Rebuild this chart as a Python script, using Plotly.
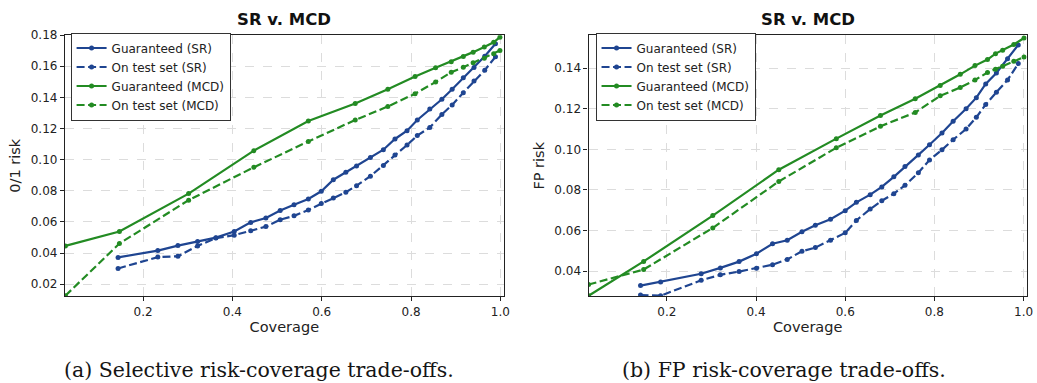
import plotly.graph_objects as go

# ---------------- Panel (a): selective 0/1 risk vs coverage ----------------
a_sr_cov = [0.144, 0.233, 0.278, 0.322, 0.363, 0.404, 0.441, 0.475, 0.507, 0.538,
            0.570, 0.599, 0.626, 0.654, 0.678, 0.709, 0.738, 0.764, 0.791, 0.814,
            0.842, 0.869, 0.892, 0.917, 0.941, 0.965, 0.989]
a_sr_guar = [0.0372, 0.0416, 0.0448, 0.0475, 0.0499, 0.0538, 0.0597, 0.0625, 0.0673, 0.0711,
             0.0747, 0.0797, 0.0871, 0.0919, 0.0959, 0.1014, 0.1064, 0.1133, 0.1186, 0.1255,
             0.1325, 0.1388, 0.1453, 0.1527, 0.1592, 0.1665, 0.1745]
a_sr_test = [0.0301, 0.0374, 0.0379, 0.0446, 0.0496, 0.0515, 0.0543, 0.0570, 0.0614, 0.0639,
             0.0677, 0.0719, 0.0753, 0.0791, 0.0833, 0.0894, 0.0963, 0.1030, 0.1094, 0.1155,
             0.1207, 0.1291, 0.1352, 0.1430, 0.1506, 0.1575, 0.1661]
a_mcd_cov = [0.026, 0.147, 0.302, 0.448, 0.570, 0.675, 0.748, 0.809, 0.855, 0.890,
             0.917, 0.939, 0.964, 0.985, 0.999]
a_mcd_guar = [0.0446, 0.0538, 0.0782, 0.1058, 0.1249, 0.1361, 0.1453, 0.1535, 0.1590, 0.1630,
              0.1663, 0.1691, 0.1724, 0.1754, 0.1787]
a_mcd_test = [0.0126, 0.0461, 0.0740, 0.0951, 0.1117, 0.1255, 0.1342, 0.1424, 0.1499, 0.1562,
              0.1594, 0.1623, 0.1651, 0.1680, 0.1701]

# ---------------- Panel (b): false-positive risk vs coverage ----------------
b_sr_cov = [0.141, 0.186, 0.277, 0.320, 0.362, 0.401, 0.437, 0.470, 0.503, 0.533,
            0.567, 0.600, 0.625, 0.656, 0.682, 0.709, 0.734, 0.764, 0.789, 0.817,
            0.842, 0.871, 0.894, 0.915, 0.939, 0.964, 0.988]
b_sr_guar = [0.0329, 0.0347, 0.0387, 0.0416, 0.0447, 0.0486, 0.0535, 0.0552, 0.0594, 0.0626,
             0.0656, 0.0698, 0.0739, 0.0777, 0.0815, 0.0865, 0.0916, 0.0973, 0.1023, 0.1081,
             0.1139, 0.1200, 0.1255, 0.1323, 0.1377, 0.1447, 0.1515]
b_sr_test = [0.0282, 0.0279, 0.0355, 0.0382, 0.0398, 0.0414, 0.0432, 0.0458, 0.0498, 0.0516,
             0.0552, 0.0589, 0.0650, 0.0706, 0.0747, 0.0782, 0.0823, 0.0885, 0.0948, 0.0998,
             0.1048, 0.1100, 0.1158, 0.1221, 0.1282, 0.1342, 0.1423]
b_mcd_cov = [0.0245, 0.148, 0.303, 0.451, 0.580, 0.679, 0.757, 0.813, 0.858, 0.891,
             0.919, 0.937, 0.953, 0.978, 1.001]
b_mcd_guar = [0.0279, 0.0448, 0.0674, 0.0900, 0.1053, 0.1167, 0.1250, 0.1315, 0.1370, 0.1413,
              0.1443, 0.1472, 0.1489, 0.1517, 0.1549]
b_mcd_test = [0.0334, 0.0408, 0.0613, 0.0842, 0.1008, 0.1114, 0.1182, 0.1264, 0.1305, 0.1342,
              0.1379, 0.1395, 0.1410, 0.1435, 0.1455]

series_names = ["Guaranteed (SR)", "On test set (SR)", "Guaranteed (MCD)", "On test set (MCD)"]
x_ticks = [0.2, 0.4, 0.6, 0.8, 1.0]
x_tick_text = ["0.2", "0.4", "0.6", "0.8", "1.0"]
a_y_ticks = [0.02, 0.04, 0.06, 0.08, 0.10, 0.12, 0.14, 0.16, 0.18]
b_y_ticks = [0.04, 0.06, 0.08, 0.10, 0.12, 0.14]

BLUE = "#1f4591"
GREEN = "#238b23"
DASH = "8px,3.5px"
W, H = 1037, 383

fig = go.Figure()


def add_panel(xa, ya, legend, sr_cov, sr_g, sr_t, mcd_cov, mcd_g, mcd_t):
    specs = [
        (sr_cov, sr_g, BLUE, "solid"),
        (sr_cov, sr_t, BLUE, DASH),
        (mcd_cov, mcd_g, GREEN, "solid"),
        (mcd_cov, mcd_t, GREEN, DASH),
    ]
    for name, (xs, ys, col, dash) in zip(series_names, specs):
        fig.add_trace(go.Scatter(
            x=xs, y=ys, name=name, mode="lines+markers",
            xaxis=xa, yaxis=ya, legend=legend, cliponaxis=True,
            line=dict(color=col, width=2.2, dash=dash),
            marker=dict(color=col, size=5, symbol="circle"),
        ))


add_panel("x", "y", "legend", a_sr_cov, a_sr_guar, a_sr_test, a_mcd_cov, a_mcd_guar, a_mcd_test)
add_panel("x2", "y2", "legend2", b_sr_cov, b_sr_guar, b_sr_test, b_mcd_cov, b_mcd_guar, b_mcd_test)

# plot-area boxes in pixels
ax_a = (65.3, 506.7)
ax_b = (592.0, 1032.7)
top_px, bot_px = 28.7, 294.7
ydom = [1 - bot_px / H, 1 - top_px / H]

tickfont = dict(family="DejaVu Sans", size=12, color="#222")
titlefont = dict(family="DejaVu Sans", size=14.5, color="#222")

common_axis = dict(
    showline=True, linecolor="#222", linewidth=1.2, mirror=True,
    ticks="outside", ticklen=4, tickwidth=1, tickcolor="#222",
    showgrid=True, gridcolor="#dcdcdc", griddash="dash", gridwidth=0.8,
    zeroline=False, tickfont=tickfont,
)

legend_style = dict(
    xanchor="left", yanchor="top",
    bgcolor="white", bordercolor="#333", borderwidth=1,
    font=dict(family="DejaVu Sans", size=12, color="#222"),
    itemwidth=30, tracegroupgap=0,
)

fig.update_layout(
    width=W, height=H,
    margin=dict(l=0, r=0, t=0, b=0),
    paper_bgcolor="white", plot_bgcolor="white",
    xaxis=dict(domain=[ax_a[0] / W, ax_a[1] / W], range=[0.025, 1.0076],
               tickvals=x_ticks, ticktext=x_tick_text, anchor="y",
               title=dict(text="Coverage", font=titlefont, standoff=3), **common_axis),
    yaxis=dict(domain=ydom, range=[0.0122, 0.18], anchor="x",
               tickvals=a_y_ticks, tickformat=".2f",
               title=dict(text="0/1 risk", font=titlefont, standoff=6), **common_axis),
    xaxis2=dict(domain=[ax_b[0] / W, ax_b[1] / W], range=[0.0245, 1.007],
                tickvals=x_ticks, ticktext=x_tick_text, anchor="y2",
                title=dict(text="Coverage", font=titlefont, standoff=3), **common_axis),
    yaxis2=dict(domain=ydom, range=[0.0276, 0.1563], anchor="x2",
                tickvals=b_y_ticks, tickformat=".2f",
                title=dict(text="FP risk", font=titlefont, standoff=6), **common_axis),
    legend=dict(x=71 / W, y=1 - 26 / H, **legend_style),
    legend2=dict(x=599 / W, y=1 - 26 / H, **legend_style),
    showlegend=True,
)

# panel titles
for cx in [(ax_a[0] + ax_a[1]) / 2, (ax_b[0] + ax_b[1]) / 2]:
    fig.add_annotation(text="<b>SR v. MCD</b>", x=cx / W, y=1 - 13 / H, xref="paper", yref="paper",
                       xanchor="center", yanchor="middle", showarrow=False,
                       font=dict(family="DejaVu Sans", size=16.5, color="#111"))

# sub-figure captions
captions = [("(a) Selective risk-coverage trade-offs.", 261),
            ("(b) FP risk-coverage trade-offs.", 789)]
for text, cx in captions:
    fig.add_annotation(text=text, x=cx / W, y=1 - 370 / H, xref="paper", yref="paper",
                       xanchor="center", yanchor="middle", showarrow=False,
                       font=dict(family="DejaVu Serif", size=20.5, color="#151515"))

fig.write_html("out.html")
